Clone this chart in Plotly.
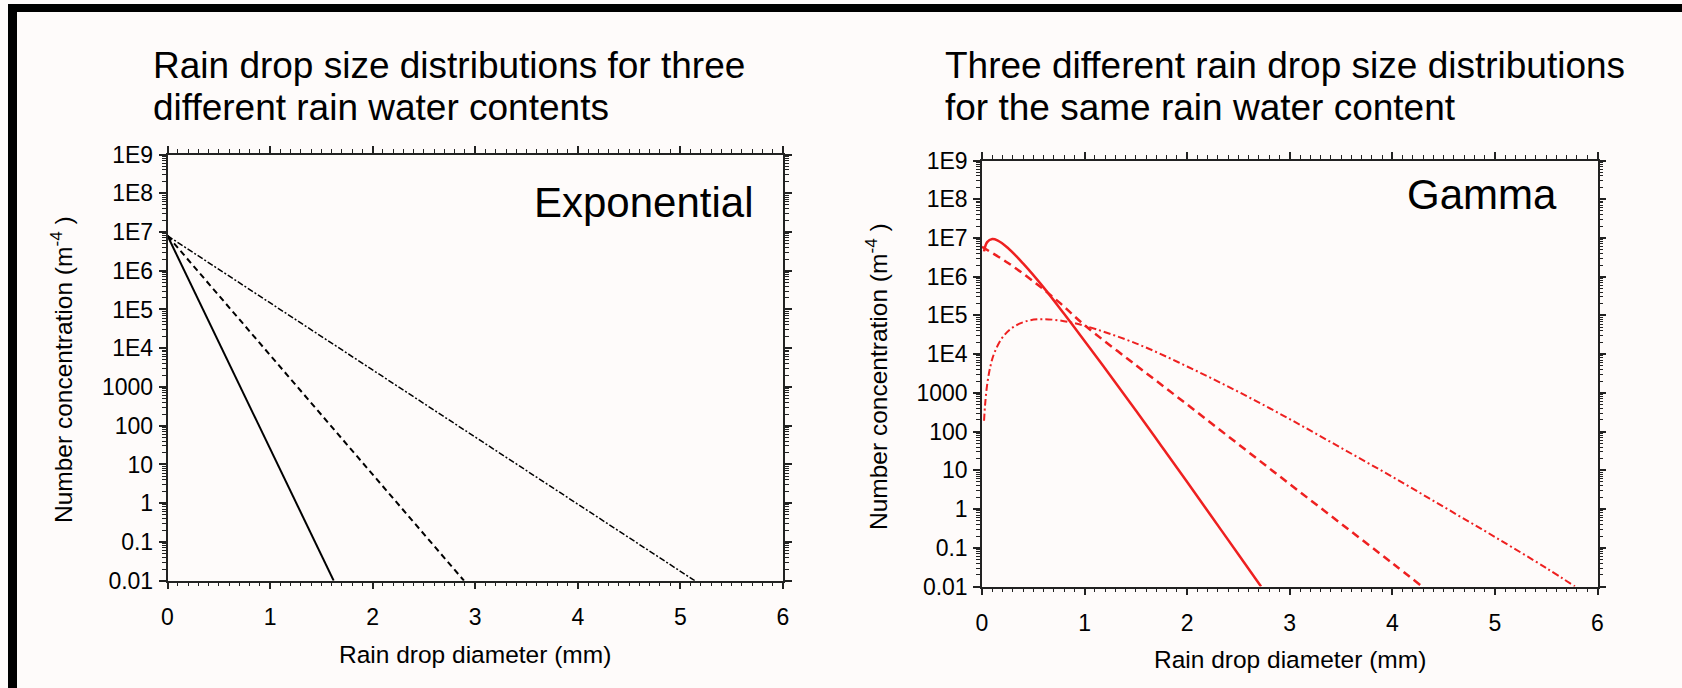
import plotly.graph_objects as go

# ---------------- data ----------------
# Left panel: exponential (Marshall-Palmer like) distributions, three rain water contents
exp_solid_d = [0.0, 1.62]
exp_solid_n = [8e6, 0.01]
exp_dash_d = [0.0, 2.89]
exp_dash_n = [8e6, 0.01]
exp_dashdot_d = [0.0, 5.14]
exp_dashdot_n = [8e6, 0.01]

# Right panel: three gamma distributions with the same rain water content
gam_solid_d = [0.02, 0.05, 0.1, 0.15, 0.25, 0.4, 0.6, 0.8, 1.0, 1.25, 1.5, 1.75, 2.0, 2.25, 2.5, 2.72]
gam_solid_n = [4.5e6, 7.8e6, 9.4e6, 8.7e6, 5.6e6, 2.2e6, 5.3e5, 1.1e5, 2.2e4, 2.8e3, 350, 42, 5.0, 0.58, 0.067, 0.01]

gam_dash_d = [0.0, 0.25, 0.5, 0.75, 1.0, 1.5, 2.0, 2.5, 3.0, 3.5, 4.0, 4.29]
gam_dash_n = [5.9e6, 2.3e6, 7.6e5, 2.2e5, 5.6e4, 5.2e3, 500, 47, 4.4, 0.42, 0.04, 0.01]

gam_dashdot_d = [0.02, 0.03, 0.05, 0.08, 0.12, 0.2, 0.3, 0.45, 0.6, 0.8, 1.0, 1.5, 2.0, 2.5, 3.0, 3.5, 4.0, 4.5, 5.0, 5.5, 5.78]
gam_dashdot_n = [190, 490, 1600, 4600, 1.07e4, 2.7e4, 4.9e4, 7.3e4, 8.0e4, 7.1e4, 5.4e4, 1.9e4, 4.8e3, 1.06e3, 210, 38, 6.8, 1.14, 0.19, 0.030, 0.01]

x_ticks = [0, 1, 2, 3, 4, 5, 6]
y_tickvals = [1e-2, 1e-1, 1, 10, 100, 1000, 1e4, 1e5, 1e6, 1e7, 1e8, 1e9]
y_ticktext = ["0.01", "0.1", "1", "10", "100", "1000", "1E4", "1E5", "1E6", "1E7", "1E8", "1E9"]

title_left = ["Rain drop size distributions for three", "different rain water contents"]
title_right = ["Three different rain drop size distributions", "for the same rain water content"]
x_title = "Rain drop diameter (mm)"
y_title = "Number concentration (m<sup>-4</sup> )"

# ---------------- layout helpers ----------------
W, H = 1682, 688
BG = "#fefbfa"
RED = "#ee2020"
FONT = "Liberation Sans, Arial, Helvetica, sans-serif"


def px(x):
    return x / W


def py(y):
    return 1 - y / H


fig = go.Figure()

fig.add_trace(go.Scatter(x=exp_solid_d, y=exp_solid_n, mode="lines",
                         line=dict(color="black", width=2), xaxis="x", yaxis="y"))
fig.add_trace(go.Scatter(x=exp_dash_d, y=exp_dash_n, mode="lines",
                         line=dict(color="black", width=2, dash="6px,4px"), xaxis="x", yaxis="y"))
fig.add_trace(go.Scatter(x=exp_dashdot_d, y=exp_dashdot_n, mode="lines",
                         line=dict(color="black", width=1.5, dash="6px,2px,2px,2px"), xaxis="x", yaxis="y"))

fig.add_trace(go.Scatter(x=gam_solid_d, y=gam_solid_n, mode="lines", line_shape="spline",
                         line=dict(color=RED, width=2.5), xaxis="x2", yaxis="y2"))
fig.add_trace(go.Scatter(x=gam_dash_d, y=gam_dash_n, mode="lines", line_shape="spline",
                         line=dict(color=RED, width=2.5, dash="8px,5px"), xaxis="x2", yaxis="y2"))
fig.add_trace(go.Scatter(x=gam_dashdot_d, y=gam_dashdot_n, mode="lines", line_shape="spline",
                         line=dict(color=RED, width=2, dash="7px,3px,2px,3px"), xaxis="x2", yaxis="y2"))

common_x = dict(range=[0, 6], tickmode="array", tickvals=x_ticks, ticks="outside", ticklen=7,
                tickwidth=1.5, tickcolor="#222", showline=True, linecolor="#222", linewidth=1.5,
                mirror="ticks", showgrid=False, zeroline=False, automargin=False, ticklabelstandoff=8,
                tickfont=dict(family=FONT, size=23, color="black"),
                minor=dict(dtick=0.1, ticks="outside", ticklen=4, tickwidth=1, tickcolor="#222", showgrid=False))
common_y = dict(type="log", range=[-2, 9], tickmode="array", tickvals=y_tickvals, ticktext=y_ticktext,
                ticks="outside", ticklen=7, tickwidth=1.5, tickcolor="#222", showline=True,
                linecolor="#222", linewidth=1.5, mirror="ticks", showgrid=False, zeroline=False,
                automargin=False, ticklabelstandoff=1,
                tickfont=dict(family=FONT, size=23, color="black"),
                minor=dict(dtick="D1", ticks="outside", ticklen=4, tickwidth=1, tickcolor="#222", showgrid=False))

L_left, L_right, L_top, L_bot = 167.5, 783.0, 154.5, 580.7
R_left, R_right, R_top, R_bot = 982.0, 1597.5, 160.5, 586.5

fig.update_layout(
    width=W, height=H, margin=dict(l=0, r=0, t=0, b=0, pad=0, autoexpand=False),
    paper_bgcolor=BG, plot_bgcolor=BG, showlegend=False,
    font=dict(family=FONT, color="black"),
    xaxis=dict(domain=[px(L_left), px(L_right)], anchor="y", **common_x),
    yaxis=dict(domain=[py(L_bot), py(L_top)], anchor="x", **common_y),
    xaxis2=dict(domain=[px(R_left), px(R_right)], anchor="y2", **common_x),
    yaxis2=dict(domain=[py(R_bot), py(R_top)], anchor="x2", **common_y),
)

annotations = []
# panel titles (two lines each)
for i, line_y in enumerate([65, 107.5]):
    annotations.append(dict(text=title_left[i], x=px(151), y=py(line_y), xref="paper", yref="paper",
                            xanchor="left", yanchor="middle", showarrow=False,
                            font=dict(family=FONT, size=37, color="black")))
    annotations.append(dict(text=title_right[i], x=px(943), y=py(line_y), xref="paper", yref="paper",
                            xanchor="left", yanchor="middle", showarrow=False,
                            font=dict(family=FONT, size=37, color="black")))
# in-panel labels
annotations.append(dict(text="Exponential", x=px(756), y=py(203), xref="paper", yref="paper",
                        xanchor="right", yanchor="middle", showarrow=False,
                        font=dict(family=FONT, size=42, color="black")))
annotations.append(dict(text="Gamma", x=px(1559), y=py(195), xref="paper", yref="paper",
                        xanchor="right", yanchor="middle", showarrow=False,
                        font=dict(family=FONT, size=42, color="black")))
# axis titles
annotations.append(dict(text=x_title, x=px((L_left + L_right) / 2), y=py(654), xref="paper", yref="paper",
                        xanchor="center", yanchor="middle", showarrow=False,
                        font=dict(family=FONT, size=24.5, color="black")))
annotations.append(dict(text=x_title, x=px((R_left + R_right) / 2), y=py(659), xref="paper", yref="paper",
                        xanchor="center", yanchor="middle", showarrow=False,
                        font=dict(family=FONT, size=24.5, color="black")))
annotations.append(dict(text=y_title, x=px(62), y=py(370), xref="paper", yref="paper", textangle=-90,
                        xanchor="center", yanchor="middle", showarrow=False,
                        font=dict(family=FONT, size=24.5, color="black")))
annotations.append(dict(text=y_title, x=px(876), y=py(377), xref="paper", yref="paper", textangle=-90,
                        xanchor="center", yanchor="middle", showarrow=False,
                        font=dict(family=FONT, size=24.5, color="black")))
fig.update_layout(annotations=annotations)

# black slide frame (top and left edges)
fig.update_layout(shapes=[
    dict(type="rect", xref="paper", yref="paper", x0=px(8), x1=1.0, y0=py(12), y1=py(4),
         fillcolor="black", line=dict(width=0), layer="above"),
    dict(type="rect", xref="paper", yref="paper", x0=px(8), x1=px(17), y0=0.0, y1=py(4),
         fillcolor="black", line=dict(width=0), layer="above"),
])

fig.write_html("out.html", config={"displayModeBar": False},
               post_script="document.body.style.margin='0';document.body.style.overflow='hidden';")
